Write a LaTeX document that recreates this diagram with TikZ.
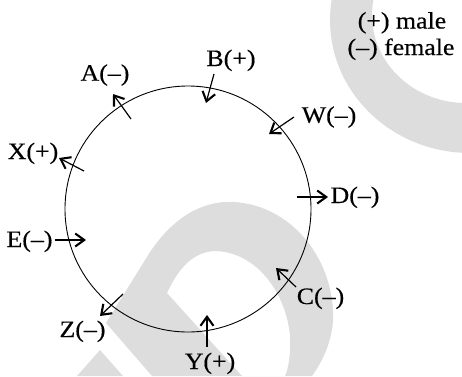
\documentclass[tikz,border=0pt]{standalone}
\usepackage{fontspec}
\setmainfont{Liberation Serif}[FakeStretch=1.1,FakeBold=0.4]
\usetikzlibrary{arrows.meta}
\definecolor{wm}{RGB}{221,221,221}
\begin{document}
\begin{tikzpicture}[x=1pt,y=-1pt,
  lbl/.style={font=\fontsize{23.5}{26}\selectfont, inner sep=0pt, anchor=base},
  arr/.style={line width=1.2pt, -{Straight Barb[length=9pt,width=13pt,line width=2.1pt]}},
  ringline/.style={line width=0.9pt}]
\useasboundingbox (0,0) rectangle (462,376);
\begin{scope}
\clip (0,0) rectangle (462,376);
% watermark
\fill[wm,even odd rule] (470,20) ellipse [x radius=140, y radius=133] (466,15) ellipse [x radius=94, y radius=88];
\fill[wm,even odd rule]
  (152,376) -- (106,323) -- (150,252) .. controls (175,215) and (205,200) .. (235,202)
  .. controls (290,206) and (330,255) .. (333,310) .. controls (335,340) and (320,365) .. (312,376) -- cycle
  (242,376) -- (167,293) .. controls (180,265) and (195,252) .. (215,251)
  .. controls (255,252) and (285,290) .. (290,335) .. controls (291,355) and (288,370) .. (285,376) -- cycle;
\fill[wm] (77,376) -- (100,350) -- (123,376) -- cycle;
\end{scope}
% circle
\node[draw, ringline, circle, inner sep=0pt, minimum size=246pt] (ring) at (188,209) {};
% legend
\node[lbl] (lm) at (402,28.5) {(+) male};
\node[lbl] (lf) at (401,55) {(–) female};
% labels
\node[lbl] (A) at (105,80.7) {A(–)};
\node[lbl] (B) at (231,66) {B(+)};
\node[lbl] (W) at (329,122.7) {W(–)};
\node[lbl] (X) at (33,159) {X(+)};
\node[lbl] (D) at (355,203) {D(–)};
\node[lbl] (E) at (29.5,247) {E(–)};
\node[lbl] (C) at (320.5,304) {C(–)};
\node[lbl] (Z) at (82.5,337) {Z(–)};
\node[lbl] (Y) at (210,369) {Y(+)};
% arrow ends
\coordinate (a1) at (131,119); \coordinate (a2) at (113,94);
\coordinate (b1) at (214,74);  \coordinate (b2) at (206,103);
\coordinate (w1) at (294,117); \coordinate (w2) at (269,134);
\coordinate (x1) at (84,171);  \coordinate (x2) at (59,158);
\coordinate (d1) at (297,197); \coordinate (d2) at (328,197);
\coordinate (e1) at (55,240);  \coordinate (e2) at (86,240);
\coordinate (c1) at (296,287); \coordinate (c2) at (276,268);
\coordinate (z1) at (123,294); \coordinate (z2) at (100,316);
\coordinate (y1) at (207,347); \coordinate (y2) at (207,315);
\draw[arr] (a1) -- (a2);
\draw[arr] (b1) -- (b2);
\draw[arr] (w1) -- (w2);
\draw[arr] (x1) -- (x2);
\draw[arr] (d1) -- (d2);
\draw[arr] (e1) -- (e2);
\draw[arr] (c1) -- (c2);
\draw[arr] (z1) -- (z2);
\draw[arr] (y1) -- (y2);
\end{tikzpicture}
\end{document}
